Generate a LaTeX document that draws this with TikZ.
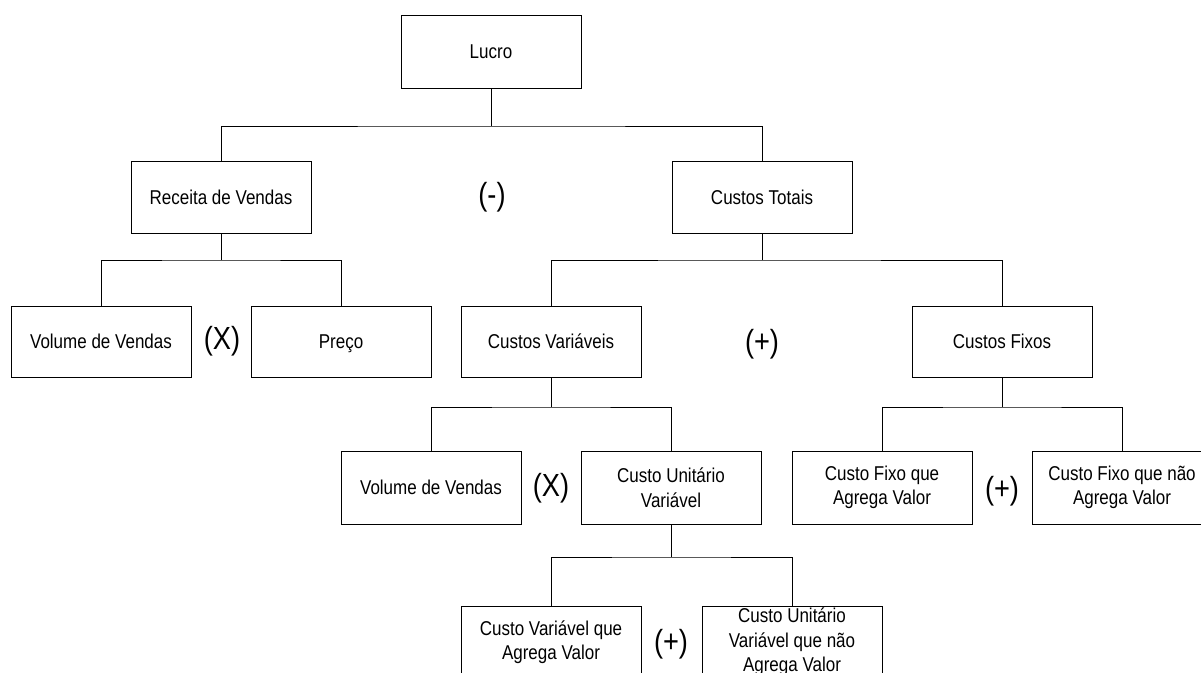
\documentclass[tikz,border=0pt]{standalone}
\usepackage{fontspec}
\setmainfont[FakeStretch=0.85]{Liberation Sans}
\begin{document}
\begin{tikzpicture}[x=1pt,y=-1pt,
  box/.style={draw=black, line width=1pt, minimum width=180pt, minimum height=72pt,
    inner sep=0pt, align=center, font=\fontsize{20}{24.5}\selectfont},
  oper/.style={inner sep=0pt, font=\fontsize{32}{36}\selectfont},
  link/.style={draw=black, line width=1pt}]
\useasboundingbox (0,0) rectangle (1201,672);
\clip (0,0) rectangle (1201,672);
\fill[white] (0,0) rectangle (1201,672);

% level 0
\node[box, minimum height=73pt] (lucro) at (491,51.5) {Lucro};
% level 1
\node[box] (receita) at (221,197) {Receita de Vendas};
\node[box] (totais)  at (762,197) {Custos Totais};
% level 2
\node[box, minimum height=71pt] (volA)   at (101,341.5) {Volume de Vendas};
\node[box, minimum height=71pt] (preco)  at (341,341.5) {\raisebox{0pt}[\height][0pt]{Preço}};
\node[box, minimum height=71pt] (varia)  at (551,341.5) {Custos Variáveis};
\node[box, minimum height=71pt] (fixos)  at (1002,341.5) {Custos Fixos};
% level 3
\node[box, minimum height=73pt] (volB)   at (431,487.5) {Volume de Vendas};
\node[box, minimum height=73pt] (cuv)    at (671,487.5) {Custo Unitário\\Variável};
\node[box, minimum height=73pt] (cfav)   at (882,487.5) {Custo Fixo que\\Agrega Valor};
\node[box, minimum height=73pt] (cfnav)  at (1122,487.5) {Custo Fixo que não\\Agrega Valor};
% level 4
\node[box] (cvav)  at (551,642) {Custo Variável que\\Agrega Valor};
\node[box] (cunav) at (792,642) {Custo Unitário\\Variável que não\\Agrega Valor};

% operators
\node[oper] (opMinus) at (492,197) {(-)};
\node[oper] (opX1)    at (222,341) {(X)};
\node[oper] (opP1)    at (762,344) {(+)};
\node[oper] (opX2)    at (551,488) {(X)};
\node[oper] (opP2)    at (1002,491) {(+)};
\node[oper] (opP3)    at (671,644) {(+)};

% branch junctions
\coordinate (j0) at (491,126);
\coordinate (j1) at (221,260);
\coordinate (j2) at (762,260);
\coordinate (j3) at (551,407);
\coordinate (j4) at (1002,407);
\coordinate (j5) at (671,557);

% connectors
\draw[link] (lucro.south) -- (j0);
\draw[link] (receita.north) |- (j0) -| (totais.north);
\draw[link] (receita.south) -- (j1);
\draw[link] (volA.north) |- (j1) -| (preco.north);
\draw[link] (totais.south) -- (j2);
\draw[link] (varia.north) |- (j2) -| (fixos.north);
\draw[link] (varia.south) -- (j3);
\draw[link] (volB.north) |- (j3) -| (cuv.north);
\draw[link] (fixos.south) -- (j4);
\draw[link] (cfav.north) |- (j4) -| (cfnav.north);
\draw[link] (cuv.south) -- (j5);
\draw[link] (cvav.north) |- (j5) -| (cunav.north);
\end{tikzpicture}
\end{document}
